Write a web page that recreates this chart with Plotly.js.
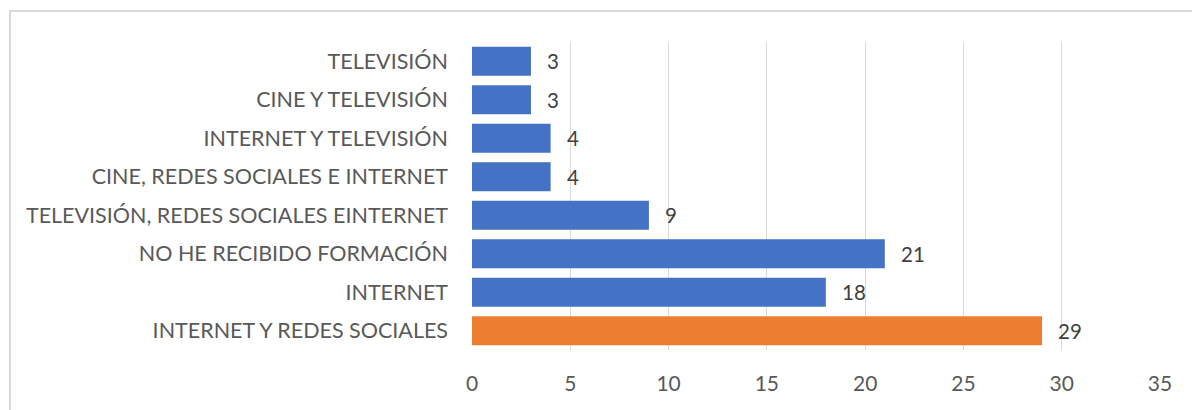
<!DOCTYPE html>
<html>
<head>
<meta charset="utf-8">
<script src="https://cdn.plot.ly/plotly-3.0.1.min.js"></script>
<style>html,body{margin:0;padding:0;background:#fff;}#chart{width:1192px;height:410px;}</style>
</head>
<body>
<div id="chart"></div>
<script>
// Categories listed bottom to top
const categories = [
  "INTERNET Y REDES SOCIALES",
  "INTERNET",
  "NO HE RECIBIDO FORMACIÓN",
  "TELEVISIÓN, REDES SOCIALES EINTERNET",
  "CINE, REDES SOCIALES E INTERNET",
  "INTERNET Y TELEVISIÓN",
  "CINE Y TELEVISIÓN",
  "TELEVISIÓN"
];
const values = [29, 18, 21, 9, 4, 4, 3, 3];
const barColors = ["#ED7D31", "#4472C4", "#4472C4", "#4472C4", "#4472C4", "#4472C4", "#4472C4", "#4472C4"];
const xTicks = [0, 5, 10, 15, 20, 25, 30, 35];

const FONT = "Lato, 'Open Sans', sans-serif";

const trace = {
  type: "bar",
  orientation: "h",
  x: values,
  y: categories,
  marker: {color: barColors},
  hoverinfo: "none"
};

// data labels placed just right of each bar end
const labelAnnotations = values.map((v, i) => ({
  x: v, y: categories[i], xref: "x", yref: "y",
  text: String(v),
  showarrow: false,
  xanchor: "left",
  yanchor: "middle",
  xshift: 14,
  font: {family: FONT, size: 20.5, color: "#404040"}
}));

const layout = {
  width: 1192,
  height: 410,
  margin: {l: 472, r: 32, t: 42, b: 60},
  paper_bgcolor: "#ffffff",
  plot_bgcolor: "#ffffff",
  showlegend: false,
  bargap: 0.25,
  font: {family: FONT, color: "#595959"},
  xaxis: {
    range: [0, 35],
    tickvals: xTicks,
    ticktext: xTicks.map(String),
    showgrid: true,
    gridcolor: "#d9d9d9",
    gridwidth: 1,
    zeroline: false,
    showline: false,
    ticks: "",
    ticklabelstandoff: 19,
    tickfont: {size: 21, color: "#595959"},
    fixedrange: true
  },
  yaxis: {
    type: "category",
    categoryorder: "array",
    categoryarray: categories,
    showgrid: false,
    zeroline: false,
    showline: false,
    ticks: "",
    ticklabelstandoff: 23,
    tickfont: {size: 21.5, color: "#595959"},
    fixedrange: true
  },
  annotations: labelAnnotations,
  shapes: [{
    type: "rect", xref: "paper", yref: "paper",
    x0: -462/688, x1: 1.06, y0: -0.3, y1: 1 + 31/308,
    line: {color: "#d9d9d9", width: 2},
    fillcolor: "rgba(0,0,0,0)",
    layer: "below"
  }]
};

Plotly.newPlot("chart", [trace], layout, {displayModeBar: false, staticPlot: true});
</script>
</body>
</html>
